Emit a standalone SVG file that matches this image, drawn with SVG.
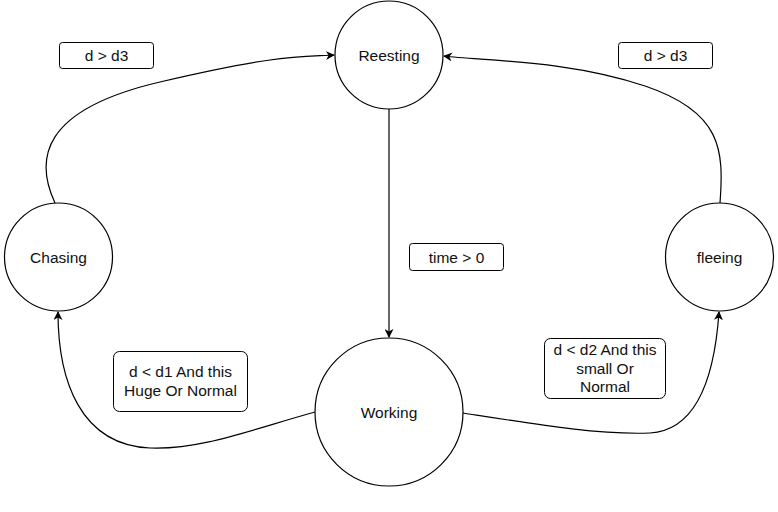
<svg xmlns="http://www.w3.org/2000/svg" width="778" height="512" viewBox="0 0 778 512">
<style>
.node{fill:#fff;stroke:#000;stroke-width:1.2}
.lbl{fill:#fff;stroke:#000;stroke-width:1}
.edge{fill:none;stroke:#000;stroke-width:1.2}
text{font-family:"Liberation Sans",Arial,sans-serif;font-size:15.5px;fill:#111;text-anchor:middle}
</style>
<defs>
<marker id="arr" viewBox="0 0 10 10" refX="9" refY="5" markerWidth="9" markerHeight="9" markerUnits="userSpaceOnUse" orient="auto">
<path d="M0,0 L10,5 L0,10 L3,5 Z" fill="#000"/>
</marker>
</defs>
<rect width="778" height="512" fill="#fff"/>
<g id="connectors">
<path class="edge" d="M 55 203 C 35 160, 40 110, 160 82 S 300 57 334 55" marker-end="url(#arr)"/>
<path class="edge" d="M 720 203 C 724 150, 722 112, 645 86 S 485 61 444 56" marker-end="url(#arr)"/>
<path class="edge" d="M 389 109 L 389 337" marker-end="url(#arr)"/>
<path class="edge" d="M 315 412 C 250 430, 200 450, 150 448 C 80 445, 58 380, 58 312" marker-end="url(#arr)"/>
<path class="edge" d="M 463 413 C 540 425, 600 435, 650 433 C 700 430, 715 370, 719 312" marker-end="url(#arr)"/>
</g>
<g id="node-reesting"><circle class="node" cx="389" cy="55" r="54"/><text x="389" y="61">Reesting</text></g>
<g id="node-chasing"><circle class="node" cx="58.5" cy="257" r="54"/><text x="58.5" y="263">Chasing</text></g>
<g id="node-fleeing"><circle class="node" cx="719.5" cy="257" r="54"/><text x="719.5" y="263">fleeing</text></g>
<g id="node-working"><circle class="node" cx="389" cy="412" r="74"/><text x="389" y="418">Working</text></g>
<g id="label-d3-left"><rect class="lbl" x="59.5" y="42.5" width="94" height="26" rx="3"/><text x="106.5" y="61">d &gt; d3</text></g>
<g id="label-d3-right"><rect class="lbl" x="618.5" y="42.5" width="94" height="26" rx="3"/><text x="665.5" y="61">d &gt; d3</text></g>
<g id="label-time"><rect class="lbl" x="409.5" y="243.5" width="94" height="27" rx="3"/><text x="456.5" y="263">time &gt; 0</text></g>
<g id="label-d1"><rect class="lbl" x="113.5" y="351.5" width="134" height="60" rx="6"/><text x="180.5" y="377">d &lt; d1 And this</text><text x="180.5" y="396">Huge Or Normal</text></g>
<g id="label-d2"><rect class="lbl" x="544.5" y="338.5" width="121" height="60" rx="6"/><text x="605" y="355">d &lt; d2 And this</text><text x="605" y="374">small Or</text><text x="605" y="392">Normal</text></g>
</svg>
